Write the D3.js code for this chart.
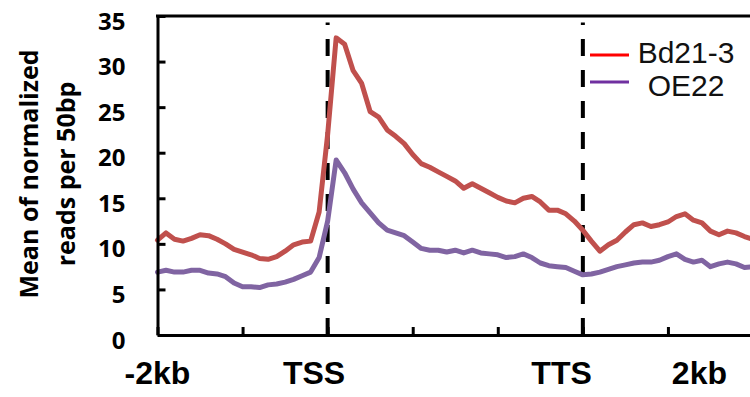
<!DOCTYPE html>
<html>
<head>
<meta charset="utf-8">
<script src="https://cdn.jsdelivr.net/npm/d3@7"></script>
<style>
  body { margin: 0; background: #fff; }
  svg { display: block; }
</style>
</head>
<body>
<script>
// bins along the metagene: 0 = -2kb, 2 = TSS, 5 = TTS, 7 = +2kb
var bins = d3.range(0, 71).map(function(i) { return i / 10; });

var bd21 = [10.4, 11.2, 10.5, 10.3, 10.6, 11.0, 10.9, 10.5, 10.0, 9.4,
            9.1, 8.8, 8.4, 8.3, 8.6, 9.2, 9.9, 10.2, 10.3, 13.5,
            22.0, 32.6, 31.9, 29.0, 27.6, 24.5, 23.9, 22.5, 21.8, 21.0,
            19.8, 18.8, 18.4, 17.9, 17.4, 16.9, 16.1, 16.6, 16.1, 15.6,
            15.1, 14.7, 14.5, 15.0, 15.2, 14.6, 13.7, 13.7, 13.3, 12.5,
            11.5, 10.3, 9.2, 9.9, 10.4, 11.3, 12.1, 12.3, 11.9, 12.1,
            12.4, 13.0, 13.3, 12.6, 12.3, 11.4, 11.0, 11.4, 11.2, 10.8,
            10.5];

var oe22 = [6.9, 7.1, 6.9, 6.9, 7.1, 7.1, 6.8, 6.7, 6.4, 5.7,
            5.3, 5.3, 5.2, 5.5, 5.6, 5.8, 6.1, 6.5, 6.9, 8.5,
            12.5, 19.2, 17.8, 16.0, 14.5, 13.4, 12.3, 11.5, 11.2, 10.9,
            10.2, 9.5, 9.3, 9.3, 9.1, 9.3, 9.0, 9.3, 9.0, 8.9,
            8.8, 8.5, 8.6, 8.9, 8.5, 7.9, 7.6, 7.5, 7.4, 7.0,
            6.6, 6.7, 6.9, 7.2, 7.5, 7.7, 7.9, 8.0, 8.0, 8.2,
            8.6, 8.9, 8.3, 8.0, 8.2, 7.5, 7.8, 8.0, 7.8, 7.4,
            7.5];

var seriesNames = ["Bd21-3", "OE22"];
var yTicks = [0, 5, 10, 15, 20, 25, 30, 35];
var xTicks = [0, 1, 2, 3, 4, 5, 6, 7];
var markers = [2, 5];
var xLabels = ["-2kb", "TSS", "TTS", "2kb"];
var xLabelPos = [0, 1.84, 4.75, 6.37];

var width = 750, height = 397;
var plotLeft = 157.5, plotTop = 16, plotBottom = 335, plotRight = 753;

var svg = d3.select("body").append("svg")
    .attr("width", width)
    .attr("height", height);

var x = d3.scaleLinear().domain([0, 7]).range([plotLeft, plotRight]);
var y = d3.scaleLinear().domain([0, 35]).range([plotBottom, plotTop]);

// dashed TSS / TTS lines
svg.selectAll(".marker")
    .data(markers)
    .enter()
    .append("line")
    .attr("class", "marker")
    .attr("x1", function(d) { return x(d); })
    .attr("x2", function(d) { return x(d); })
    .attr("y1", y(0))
    .attr("y2", y(34.3))
    .attr("stroke", "#000")
    .attr("stroke-width", 4)
    .attr("stroke-dasharray", "17,14");

var line = d3.line()
    .x(function(d, i) { return x(bins[i]); })
    .y(function(d) { return y(d); });

svg.append("path")
    .datum(bd21)
    .attr("d", line)
    .attr("fill", "none")
    .attr("stroke", "#c0504d")
    .attr("stroke-width", 5)
    .attr("stroke-linejoin", "round")
    .attr("stroke-linecap", "round");

svg.append("path")
    .datum(oe22)
    .attr("d", line)
    .attr("fill", "none")
    .attr("stroke", "#8064a2")
    .attr("stroke-width", 5)
    .attr("stroke-linejoin", "round")
    .attr("stroke-linecap", "round");

// axes, ticks point inward
var yAxis = svg.append("g")
    .attr("transform", "translate(" + plotLeft + ",0)")
    .call(d3.axisLeft(y).tickValues(yTicks).tickSizeInner(-8).tickSizeOuter(0).tickPadding(32));
yAxis.selectAll("path, line").attr("stroke", "#000").attr("stroke-width", 3);
yAxis.selectAll("text")
    .attr("dy", null)
    .attr("y", 13)
    .attr("fill", "#000")
    .style("font-family", "'Open Sans', sans-serif")
    .style("font-weight", "bold")
    .style("font-size", "24px");

var xAxis = svg.append("g")
    .attr("transform", "translate(0," + plotBottom + ")")
    .call(d3.axisBottom(x).tickValues(xTicks).tickSizeInner(-8).tickSizeOuter(0).tickFormat(""));
xAxis.selectAll("path, line").attr("stroke", "#000").attr("stroke-width", 3);

// top frame
svg.append("line")
    .attr("x1", plotLeft - 1.5).attr("x2", width)
    .attr("y1", y(35)).attr("y2", y(35))
    .attr("stroke", "#000")
    .attr("stroke-width", 3);

svg.selectAll(".xlab")
    .data(xLabels)
    .enter()
    .append("text")
    .attr("class", "xlab")
    .attr("x", function(d, i) { return x(xLabelPos[i]); })
    .attr("y", 384)
    .attr("text-anchor", "middle")
    .style("font-family", "'Liberation Sans', Arial, sans-serif")
    .style("font-weight", "bold")
    .style("font-size", "32px")
    .text(function(d) { return d; });

// y title, two lines
var ytitle = svg.append("text")
    .attr("transform", "translate(38,174) rotate(-90)")
    .attr("text-anchor", "middle")
    .style("font-family", "'Open Sans', sans-serif")
    .style("font-weight", "bold")
    .style("font-size", "25px");
ytitle.append("tspan").attr("x", 0).attr("y", 0).text("Mean of normalized");
ytitle.append("tspan").attr("x", 0).attr("y", 37).text("reads per 50bp");

// legend
var legendColors = ["#ff0000", "#7030a0"];
var legend = svg.selectAll(".legend")
    .data(seriesNames)
    .enter()
    .append("g")
    .attr("class", "legend")
    .attr("transform", function(d, i) { return "translate(0," + (i * 27) + ")"; });

legend.append("line")
    .attr("x1", 590).attr("x2", 629)
    .attr("y1", 55).attr("y2", 55)
    .attr("stroke", function(d, i) { return legendColors[i]; })
    .attr("stroke-width", 3);

legend.append("text")
    .attr("x", 686)
    .attr("y", function(d, i) { return 63 + i * 6; })
    .attr("text-anchor", "middle")
    .style("font-family", "'Liberation Sans', Arial, sans-serif")
    .style("font-size", "30px")
    .attr("fill", "#111")
    .text(function(d) { return d; });
</script>
</body>
</html>
